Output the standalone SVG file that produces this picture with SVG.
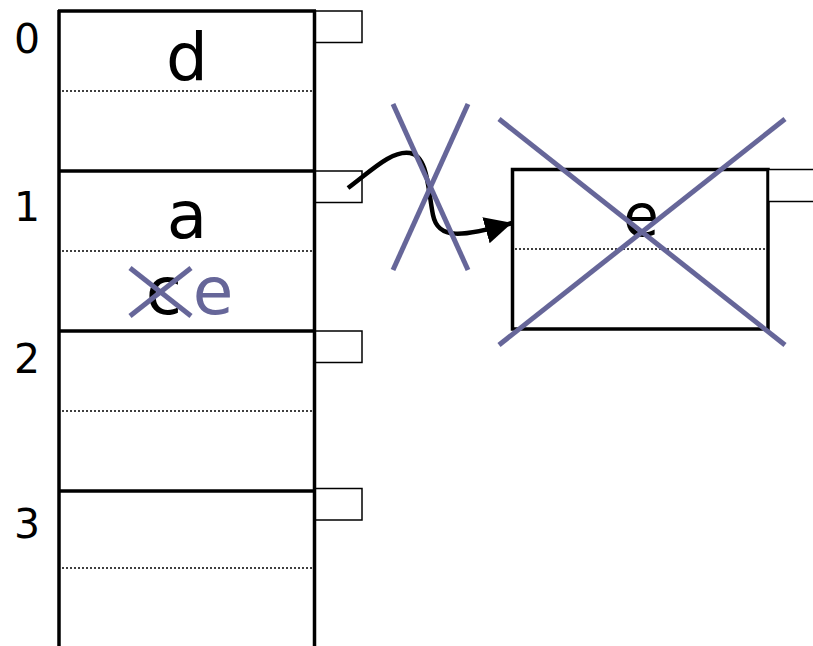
<svg xmlns="http://www.w3.org/2000/svg" width="813" height="646" viewBox="0 0 813 646">
<style>
.thick{stroke:#000;stroke-width:3.5;fill:none}
.conn{stroke:#000;stroke-width:4.5;fill:none}
.dot{stroke:#000;stroke-width:1.5;stroke-dasharray:2 2;fill:none}
.ptr{stroke:#000;stroke-width:1.5;fill:#fff}
.cross{stroke:#666699;stroke-width:5;fill:none}
.idx{font-family:"DejaVu Sans",Verdana,sans-serif;font-size:41px;fill:#000;text-anchor:middle}
.key{font-family:"DejaVu Sans",Verdana,sans-serif;font-size:66px;fill:#000;text-anchor:middle}
.key.new{fill:#666699}
</style>
<defs>
<marker id="ah" viewBox="0 0 10 10" refX="10" refY="5" markerWidth="27" markerHeight="28" markerUnits="userSpaceOnUse" orient="auto">
<path d="M0,0 L10,5 L0,10 z" fill="#000"/>
</marker>
</defs>
<rect width="813" height="646" fill="#fff"/>
<g id="table">
<line class="thick" x1="59" y1="10" x2="59" y2="650"/>
<line class="thick" x1="314.5" y1="10" x2="314.5" y2="650"/>
<line class="thick" x1="58" y1="11" x2="316" y2="11"/>
<line class="thick" x1="58" y1="171" x2="316" y2="171"/>
<line class="thick" x1="58" y1="331" x2="316" y2="331"/>
<line class="thick" x1="58" y1="491" x2="316" y2="491"/>
<line class="dot" x1="62" y1="91" x2="312" y2="91"/>
<line class="dot" x1="62" y1="251" x2="312" y2="251"/>
<line class="dot" x1="62" y1="411" x2="312" y2="411"/>
<line class="dot" x1="62" y1="568" x2="312" y2="568"/>
</g>
<g id="pointers">
<rect class="ptr" x="315.5" y="11" width="46.5" height="31.5"/>
<rect class="ptr" x="315.5" y="171" width="46.5" height="31.5"/>
<rect class="ptr" x="315.5" y="331" width="46.5" height="31.5"/>
<rect class="ptr" x="315.5" y="488.5" width="46.5" height="31.5"/>
</g>
<g id="labels">
<text class="idx" x="27" y="53">0</text>
<text class="idx" x="27" y="221">1</text>
<text class="idx" x="27" y="373">2</text>
<text class="idx" x="27" y="538">3</text>
</g>
<g id="bucket0"><text class="key" x="187" y="80">d</text></g>
<g id="bucket1">
<text class="key" x="187" y="238">a</text>
<text class="key" x="164" y="314">c</text>
<text class="key new" x="213" y="314">e</text>
<line class="cross" x1="130" y1="268" x2="191" y2="316"/>
<line class="cross" x1="130" y1="316" x2="191" y2="268"/>
</g>
<g id="overflow">
<rect class="thick" x="512.5" y="169.5" width="255.5" height="159.5"/>
<line class="dot" x1="515" y1="249" x2="766" y2="249"/>
<rect class="ptr" x="768.5" y="169.5" width="48" height="32"/>
<text class="key" x="641" y="236" style="font-size:58px">e</text>
<line class="cross" x1="499" y1="119" x2="785" y2="345"/>
<line class="cross" x1="499" y1="345" x2="785" y2="119"/>
</g>
<g id="connectors">
<path class="conn" d="M348,188 C372,170 392,150 410,153 C428,156 428,190 433,215 C438,240 462,237 512,223" marker-end="url(#ah)"/>
<line class="cross" x1="393" y1="104" x2="468" y2="270"/>
<line class="cross" x1="468" y1="104" x2="393" y2="270"/>
</g>
</svg>
